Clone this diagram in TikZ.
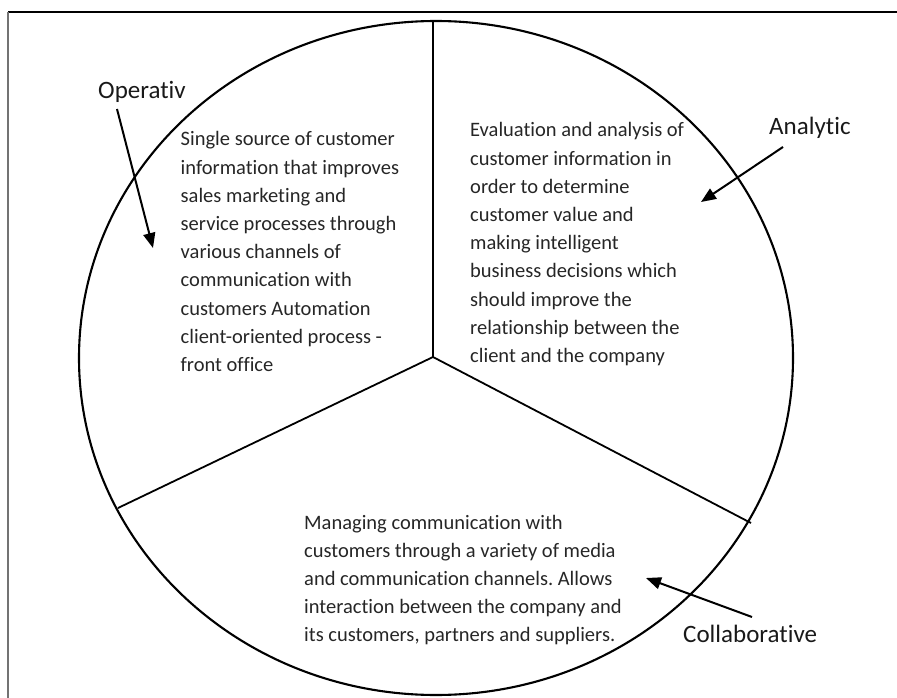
\documentclass[tikz,border=0pt]{standalone}
\usepackage{fontspec}
\setmainfont{Carlito}[Ligatures=NoCommon]
\usetikzlibrary{arrows.meta}
\frenchspacing
\begin{document}
\begin{tikzpicture}[x=1pt,y=-1pt,
  body/.style={anchor=base west, inner sep=0pt, text=black!85,
    font=\fontsize{20.5}{28.2}\selectfont},
  tag/.style={anchor=base west, inner sep=0pt, text=black!90,
    font=\fontsize{25}{30}\selectfont},
  divider/.style={line width=1.8pt},
  rim/.style={line width=2.1pt},
  pointer/.style={line width=2pt, -{Triangle[length=15pt,width=12pt]}}]
\useasboundingbox (0,0) rectangle (897,698);

% page frame (top and left edges)
\draw[line width=1.6pt] (8,12) -- (897,12);
\draw[black!55, line width=1.1pt] (8,12) -- (8,698);

% outer circle
\coordinate (hub) at (433,357);
\coordinate (top) at (433,22);
\coordinate (lowleft) at (118,508);
\coordinate (lowright) at (751,523);
\draw[rim] (436,358) ellipse [x radius=357pt, y radius=337pt];

% three sectors
\draw[divider] (hub) -- (top);
\draw[divider] (hub) -- (lowleft);
\draw[divider] (hub) -- (lowright);

% sector texts
\node[body] (optext) at (180.5,146) {\parbox[t]{260pt}{\raggedright
  Single source of customer\\
  information that improves\\
  sales marketing and\\
  service processes through\\
  various channels of\\
  communication with\\
  customers Automation\\
  client-oriented process -\\
  front office}};
\node[body] (antext) at (470,137) {\parbox[t]{260pt}{\raggedright
  Evaluation and analysis of\\
  customer information in\\
  order to determine\\
  customer value and\\
  making intelligent\\
  business decisions which\\
  should improve the\\
  relationship between the\\
  client and the company}};
\node[body] (cotext) at (304,529) {\parbox[t]{360pt}{\raggedright
  Managing communication with\\
  customers through a variety of media\\
  and communication channels. Allows\\
  interaction between the company and\\
  its customers, partners and suppliers.}};

% labels and pointers
\node[tag] (op) at (98,99) {Operativ};
\node[tag] (an) at (769,135) {Analytic};
\node[tag] (co) at (683,642) {Collaborative};

\coordinate (opfrom) at (117,109);
\coordinate (opto) at (153,248);
\coordinate (anfrom) at (783,147);
\coordinate (anto) at (701,202);
\coordinate (cofrom) at (752,617);
\coordinate (coto) at (646,578);
\draw[pointer] (opfrom) -- (opto);
\draw[pointer] (anfrom) -- (anto);
\draw[pointer] (cofrom) -- (coto);
\end{tikzpicture}
\end{document}
